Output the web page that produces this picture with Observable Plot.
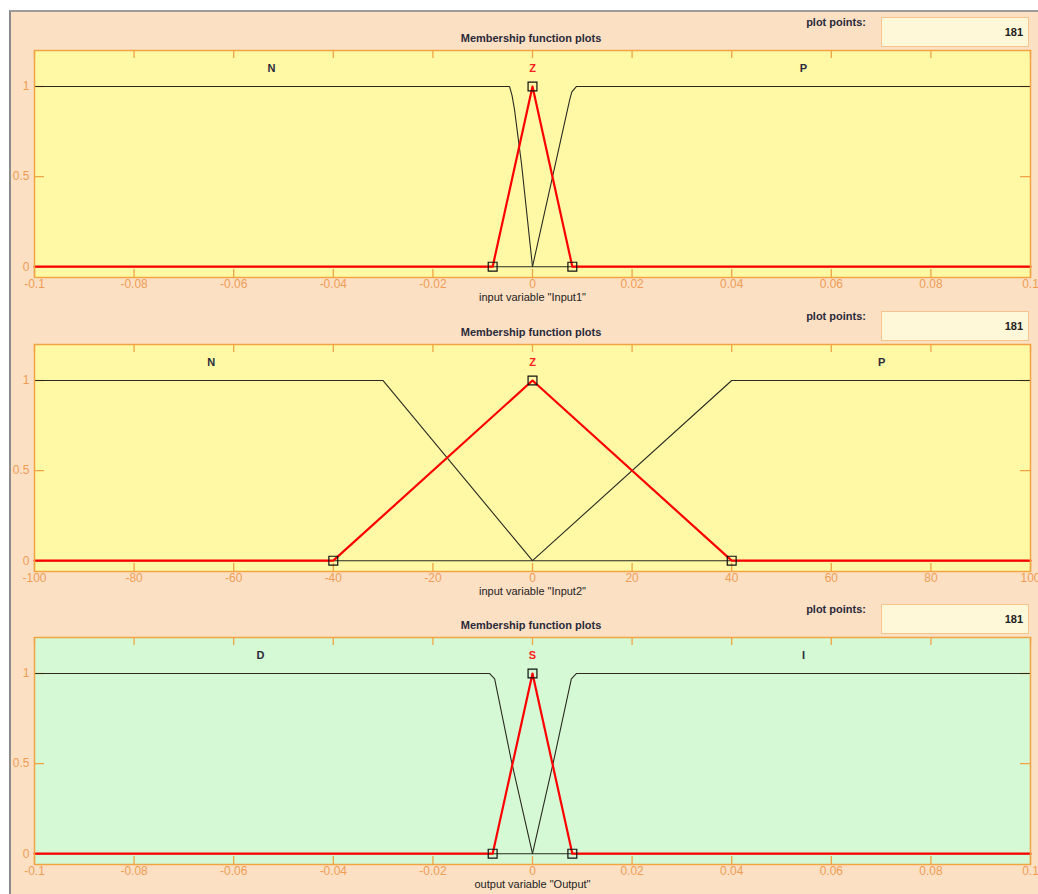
<!DOCTYPE html>
<html><head><meta charset="utf-8">
<script src="https://cdn.jsdelivr.net/npm/d3@7"></script>
<script src="https://cdn.jsdelivr.net/npm/@observablehq/plot@0.6"></script>
<style>
html,body{margin:0;padding:0;background:#fff;overflow:hidden;}
#root{position:relative;width:1038px;height:894px;font-family:"Liberation Sans",Arial,sans-serif;}
#bg{position:absolute;left:9px;top:10px;right:0;bottom:0;background:#FCE0C4;border-left:2px solid #8c8c8c;border-top:2px solid #9c9c9c;}
.t{position:absolute;font-size:11px;color:#2a2a3a;white-space:nowrap;font-weight:bold;}
.box{position:absolute;left:881px;width:148px;height:30px;background:#FFF8D8;border:1px solid #F4C48C;box-sizing:border-box;font-size:11px;text-align:right;padding-right:5px;line-height:28px;color:#222;font-weight:bold;}
.pl{position:absolute;left:0;}
</style></head>
<body><div id="root"><div id="bg"></div></div>
<script>
// ---- data ----
const titles = ["Membership function plots", "Membership function plots", "Membership function plots"];
const plotPoints = [181, 181, 181];
const xLabels = ['input variable "Input1"', 'input variable "Input2"', 'output variable "Output"'];
const yTicks = [0, 0.5, 1];
const xTicksSmall = [-0.1, -0.08, -0.06, -0.04, -0.02, 0, 0.02, 0.04, 0.06, 0.08, 0.1];
const xTicksLarge = [-100, -80, -60, -40, -20, 0, 20, 40, 60, 80, 100];

// Input1
const in1Names = ["N", "Z", "P"];
const in1LabelX = [-0.0524, 0, 0.0544];
const in1N_x = [-0.1, -0.0046, -0.0041, -0.0036, -0.0030, -0.0022, 0, 0.1];
const in1N_y = [1, 1, 0.95, 0.87, 0.74, 0.57, 0, 0];
const in1Z_x = [-0.1, -0.008, 0, 0.008, 0.1];
const in1Z_y = [0, 0, 1, 0, 0];
const in1P_x = [-0.1, 0, 0.0075, 0.0079, 0.0088, 0.1];
const in1P_y = [0, 0, 0.93, 0.97, 1, 1];
const in1Params_x = [-0.008, 0, 0.008];
const in1Params_y = [0, 1, 0];

// Input2
const in2Names = ["N", "Z", "P"];
const in2LabelX = [-64.5, 0, 70.1];
const in2N_x = [-100, -30, 0, 100];
const in2N_y = [1, 1, 0, 0];
const in2Z_x = [-100, -40, 0, 40, 100];
const in2Z_y = [0, 0, 1, 0, 0];
const in2P_x = [-100, 0, 40, 100];
const in2P_y = [0, 0, 1, 1];
const in2Params_x = [-40, 0, 40];
const in2Params_y = [0, 1, 0];

// Output
const outNames = ["D", "S", "I"];
const outLabelX = [-0.0546, 0, 0.0544];
const outD_x = [-0.1, -0.0086, -0.0076, -0.0042, 0, 0.1];
const outD_y = [1, 1, 0.97, 0.51, 0, 0];
const outS_x = [-0.1, -0.008, 0, 0.008, 0.1];
const outS_y = [0, 0, 1, 0, 0];
const outI_x = [-0.1, 0, 0.0042, 0.0078, 0.0088, 0.1];
const outI_y = [0, 0, 0.51, 0.97, 1, 1];
const outParams_x = [-0.008, 0, 0.008];
const outParams_y = [0, 1, 0];

// ---- styles ----
const ORANGE = "#F0A444";
const TICKTXT = "#EF9D55";
const panelTops = [50, 344, 637];
const fills = ["#FFF9A6", "#FFF9A6", "#D5F8D5"];

const panels = [
  {domain: [-0.1, 0.1], ticks: xTicksSmall, names: in1Names, labelX: in1LabelX,
   mfs: [[in1N_x, in1N_y], [in1Z_x, in1Z_y], [in1P_x, in1P_y]], active: 1, px: in1Params_x, py: in1Params_y},
  {domain: [-100, 100], ticks: xTicksLarge, names: in2Names, labelX: in2LabelX,
   mfs: [[in2N_x, in2N_y], [in2Z_x, in2Z_y], [in2P_x, in2P_y]], active: 1, px: in2Params_x, py: in2Params_y},
  {domain: [-0.1, 0.1], ticks: xTicksSmall, names: outNames, labelX: outLabelX,
   mfs: [[outD_x, outD_y], [outS_x, outS_y], [outI_x, outI_y]], active: 1, px: outParams_x, py: outParams_y}
];

const root = document.getElementById("root");
const W = 1038, H = 295, mT = 40, mB = 28, mL = 34, mR = 8;
const innerH = H - mT - mB, innerW = W - mL - mR;

panels.forEach((p, i) => {
  const top = panelTops[i];
  const rows = [];
  p.mfs.forEach(([xs, ys], k) => xs.forEach((x, j) => rows.push({mf: p.names[k], k, x, y: ys[j]})));
  const inactive = rows.filter(d => d.k !== p.active);
  const active = rows.filter(d => d.k === p.active);
  const params = p.px.map((x, j) => ({x, y: p.py[j]}));
  const labels = p.names.map((n, k) => ({n, k, x: p.labelX[k], y: 1.1}));

  const svg = Plot.plot({
    width: W, height: H, marginTop: mT, marginBottom: mB, marginLeft: mL, marginRight: mR,
    style: {background: "transparent", fontFamily: "Liberation Sans, Arial, sans-serif", fontSize: "11px", overflow: "visible"},
    x: {domain: p.domain},
    y: {domain: [-0.06, 1.2]},
    marks: [
      Plot.frame({fill: fills[i], stroke: null}),
      Plot.tickX(p.ticks, {x: d => d, stroke: ORANGE, strokeWidth: 1.3, insetTop: innerH - 8}),
      Plot.tickX(p.ticks, {x: d => d, stroke: ORANGE, strokeWidth: 1.3, insetBottom: innerH - 8}),
      Plot.tickY(yTicks, {y: d => d, stroke: ORANGE, strokeWidth: 1.3, insetRight: innerW - 10}),
      Plot.tickY(yTicks, {y: d => d, stroke: ORANGE, strokeWidth: 1.3, insetLeft: innerW - 10}),
      Plot.line(inactive, {x: "x", y: "y", z: "mf", stroke: "#2b2b22", strokeWidth: 1.1}),
      Plot.line(active, {x: "x", y: "y", stroke: "#FF0000", strokeWidth: 2.2}),
      Plot.dot(params, {x: "x", y: "y", symbol: "square", r: 5, stroke: "#111", fill: "none", strokeWidth: 1.2}),
      Plot.text(labels, {x: "x", y: "y", text: "n", fill: d => d.k === p.active ? "#FF2020" : "#2a2a3a", fontWeight: "bold", fontSize: 11}),
      Plot.frame({stroke: ORANGE, strokeWidth: 1.5}),
      Plot.axisX(p.ticks, {tickSize: 0, tickPadding: 2, fontSize: 12, fill: TICKTXT, tickFormat: d => String(d), label: null}),
      Plot.axisY(yTicks, {tickSize: 0, tickPadding: 5, fontSize: 12, fill: TICKTXT, tickFormat: d => String(d), label: null}),
      Plot.text([xLabels[i]], {frameAnchor: "bottom", dy: 23, text: d => d, fill: "#222", fontSize: 11})
    ]
  });
  svg.classList.add("pl");
  svg.style.top = (top - mT) + "px";
  root.appendChild(svg);

  const title = document.createElement("div");
  title.className = "t";
  title.textContent = titles[i];
  title.style.top = (top - 18) + "px";
  title.style.left = "531px";
  title.style.transform = "translateX(-50%)";
  root.appendChild(title);

  const pp = document.createElement("div");
  pp.className = "t";
  pp.textContent = "plot points:";
  pp.style.top = (top - 34) + "px";
  pp.style.right = (1038 - 866) + "px";
  root.appendChild(pp);

  const box = document.createElement("div");
  box.className = "box";
  box.textContent = plotPoints[i];
  box.style.top = (top - 33) + "px";
  root.appendChild(box);
});
</script>
</body></html>
